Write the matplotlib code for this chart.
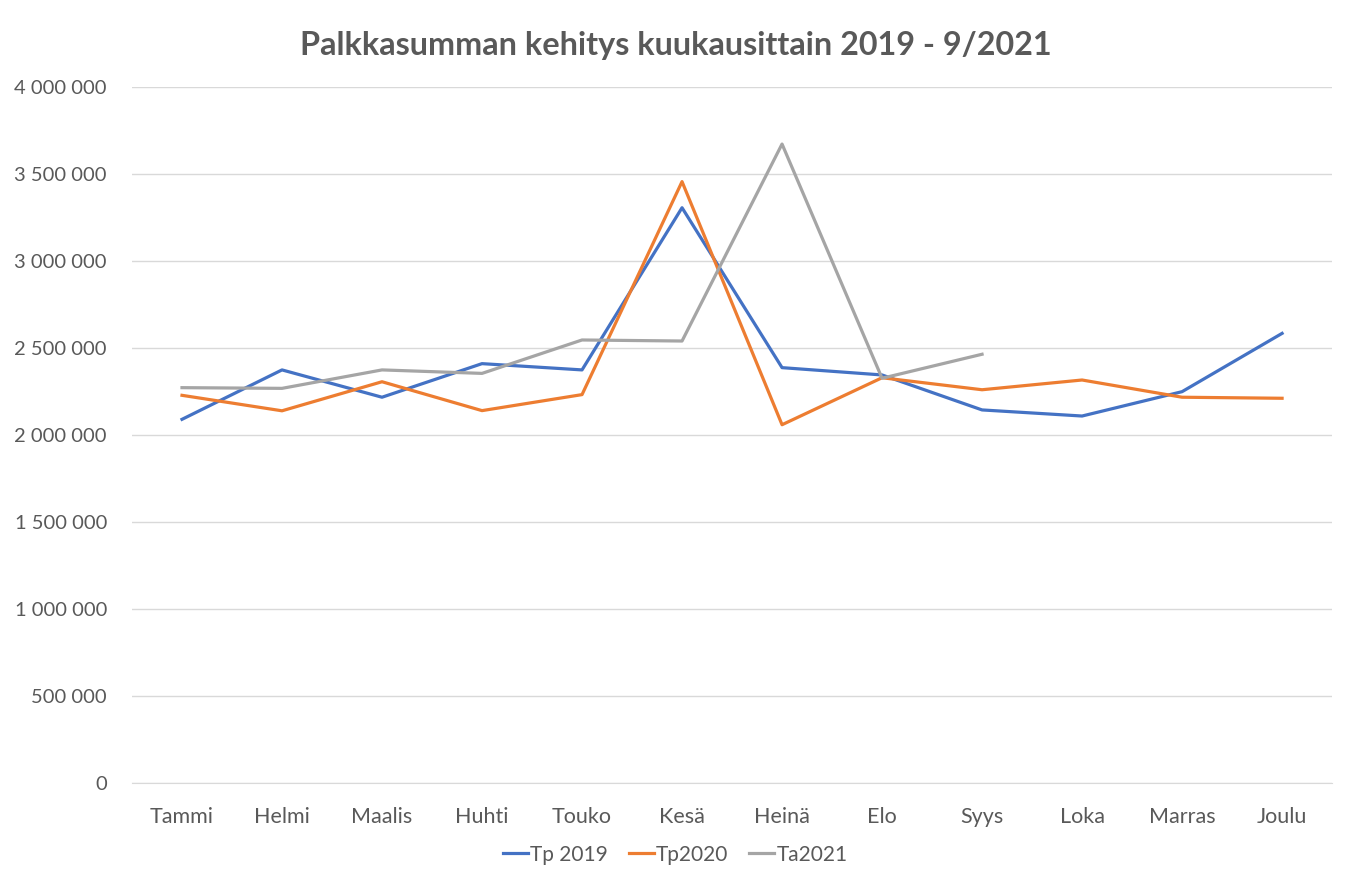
import matplotlib.pyplot as plt
from matplotlib.ticker import FuncFormatter, MultipleLocator

# months and monthly payroll totals
months = ['Tammi', 'Helmi', 'Maalis', 'Huhti', 'Touko', 'Kesä',
          'Heinä', 'Elo', 'Syys', 'Loka', 'Marras', 'Joulu']
tp2019 = [2090000, 2374000, 2217000, 2410000, 2374000, 3306000,
          2387000, 2345000, 2144000, 2109000, 2249000, 2584000]
tp2020 = [2228000, 2139000, 2306000, 2140000, 2232000, 3456000,
          2059000, 2329000, 2260000, 2316000, 2217000, 2211000]
ta2021 = [2272000, 2268000, 2374000, 2354000, 2546000, 2540000,
          3672000, 2326000, 2464000]

plt.rcParams['font.family'] = ['Lato', 'DejaVu Sans']

fig = plt.figure(figsize=(13.51, 8.74), dpi=100)
ax = fig.add_axes([0.0977, 0.1041, 0.8883, 0.7964])

x = range(len(months))
ax.plot(x, tp2019, color='#4472C4', lw=2.3, label='Tp 2019')
ax.plot(x, tp2020, color='#ED7D31', lw=2.3, label='Tp2020')
ax.plot(range(len(ta2021)), ta2021, color='#A5A5A5', lw=2.3, label='Ta2021')

ax.set_xlim(-0.5, len(months) - 0.5)
ax.set_ylim(0, 4000000)
ax.yaxis.set_major_locator(MultipleLocator(500000))
ax.yaxis.set_major_formatter(FuncFormatter(lambda v, p: f'{int(v):,}'.replace(',', ' ')))
ax.set_xticks(list(x))
ax.set_xticklabels(months)

ax.grid(axis='y', color='#D9D9D9', lw=1)
ax.set_axisbelow(True)
for s in ['top', 'right', 'left']:
    ax.spines[s].set_visible(False)
ax.spines['bottom'].set_color('#D9D9D9')
ax.tick_params(axis='both', length=0, labelcolor='#595959')
ax.tick_params(axis='x', pad=17, labelsize=15.5)
ax.tick_params(axis='y', pad=18, labelsize=14.5)

fig.text(0.5, 0.948, 'Palkkasumman kehitys kuukausittain 2019 - 9/2021',
         ha='center', va='center', fontsize=23.3, fontweight='bold', color='#595959')

leg = fig.legend(loc='center', bbox_to_anchor=(0.5, 0.022), ncol=3, frameon=False,
                 fontsize=15, handlelength=1.2, handletextpad=0.1, columnspacing=1.0)
for t in leg.get_texts():
    t.set_color('#595959')

fig.savefig('out.png', dpi=100)
